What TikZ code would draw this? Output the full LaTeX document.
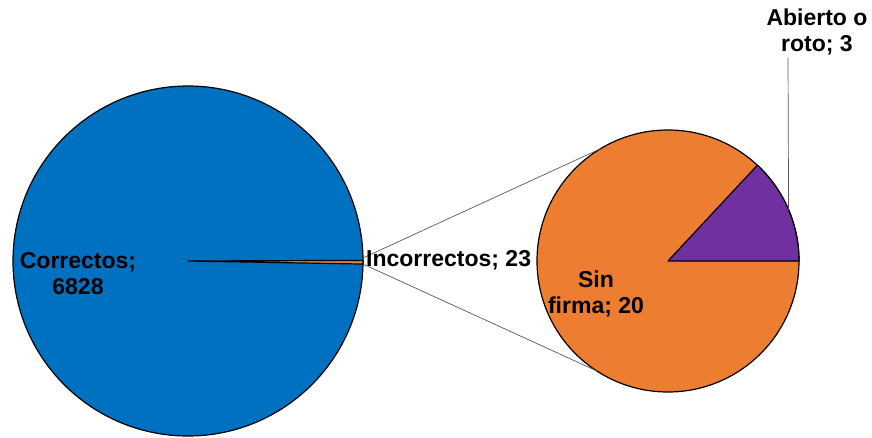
\documentclass[tikz,border=0pt]{standalone}
\usepackage{fontspec}
\setmainfont{Liberation Sans}
\usepackage{xcolor}
\usetikzlibrary{positioning, calc}

\definecolor{pieblue}{HTML}{0070C0}
\definecolor{pieorange}{HTML}{ED7D31}
\definecolor{piepurple}{HTML}{7030A0}

\begin{document}
\begin{tikzpicture}[x=1pt, y=1pt,
    pie/.style={circle, draw=black, line width=1.2pt, inner sep=0pt, outer sep=0pt},
    slice/.style={draw=black, line width=1.2pt, line join=round},
    label/.style={font=\fontsize{23}{26}\selectfont\bfseries, align=center, inner sep=0pt},
    zoomline/.style={draw=black!65, line width=0.7pt}]

    \useasboundingbox (0,0) rectangle (872,437);

    % pies
    \node (bigpie) [pie, fill=pieblue, minimum size=350pt] at (188,176) {};
    \node (smallpie) [pie, fill=pieorange, minimum size=262pt] at (668,176) {};

    % slices
    \draw [slice, fill=pieorange] (bigpie.center) -- (bigpie.-1.2) arc (-1.2:0:175) -- cycle;
    \draw [slice, fill=piepurple] (smallpie.center) -- (smallpie.0) arc (0:47:131) -- cycle;

    % zoom lines
    \draw [zoomline] (bigpie.1) -- (smallpie.121);
    \draw [zoomline] (bigpie.-1.5) -- (smallpie.237);

    % labels
    \node (correctos) [label] at (78,163) {Correctos;\\6828};
    \node (incorrectos) [label, anchor=west] at (366,177) {Incorrectos; 23};
    \node (sinfirma) [label] at (596,143) {Sin\\firma; 20};
    \node (abierto) [label] at (817,405) {Abierto o\\roto; 3};

    \coordinate (leadtop) at (788,379);
    \draw [zoomline] (leadtop) -- (smallpie.23.5);
\end{tikzpicture}
\end{document}
